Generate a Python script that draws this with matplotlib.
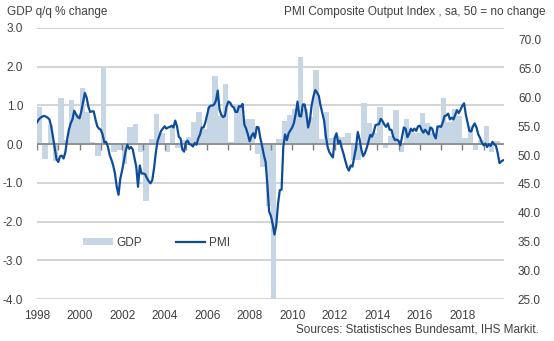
import numpy as np
import matplotlib
matplotlib.use('Agg')
import matplotlib.pyplot as plt
from matplotlib.markers import TICKDOWN
from matplotlib.patches import Patch
from matplotlib.lines import Line2D

plt.rcParams['font.family'] = ['Liberation Sans', 'DejaVu Sans']

START_YEAR = 1998

# GDP q/q % change, quarterly from 1998 Q1
gdp_qq = [
    0.96, -0.39, 0.49, -0.43,   # 1998
    1.18, 0.10, 1.13, 0.75,     # 1999
    1.44, 0.83, 0.05, -0.30,    # 2000
    2.00, 0.00, -0.20, -0.15,   # 2001
    -0.50, 0.44, 0.52, -0.20,   # 2002
    -1.47, 0.12, 0.77, 0.30,    # 2003
    -0.20, 0.45, -0.10, 0.10,   # 2004
    0.18, 0.56, 0.83, 0.40,     # 2005
    0.95, 1.75, 0.72, 1.55,     # 2006
    0.05, 1.00, 1.00, 0.66,     # 2007
    0.66, -0.25, -0.60, -1.60,  # 2008
    -4.00, 0.13, 0.60, 0.75,    # 2009
    0.90, 2.24, 0.90, 0.70,     # 2010
    1.92, 0.12, 0.83, 0.15,     # 2011
    0.20, 0.18, 0.30, -0.40,    # 2012
    -0.40, 1.05, 0.54, 0.30,    # 2013
    0.96, -0.10, 0.20, 0.87,    # 2014
    -0.20, 0.65, 0.40, 0.30,    # 2015
    0.80, 0.55, 0.30, 0.50,     # 2016
    1.18, 0.57, 0.90, 0.72,     # 2017
    0.15, 0.48, -0.15, 0.10,    # 2018
    0.47, -0.20, 0.08,          # 2019
]

# PMI composite output index, monthly from Jan 1998
pmi = [
    55.7, 56.2, 56.5, 56.7, 56.8, 56.7, 56.5, 56.2, 55.0, 53.2, 51.2, 49.3,  # 1998
    48.8, 49.8, 49.9, 49.4, 50.5, 52.7, 54.4, 55.5, 56.2, 57.7, 57.1, 56.6,  # 1999
    56.4, 57.6, 59.2, 60.8, 60.0, 58.4, 57.5, 57.6, 57.6, 56.2, 55.0, 54.6,  # 2000
    54.4, 53.6, 52.2, 52.3, 51.5, 50.0, 49.2, 48.2, 46.8, 44.5, 43.1, 45.9,  # 2001
    47.3, 48.9, 50.7, 51.8, 51.1, 51.4, 51.0, 49.5, 48.0, 44.5, 48.2, 46.8,  # 2002
    46.8, 46.7, 46.0, 45.5, 45.1, 45.6, 47.6, 50.3, 52.4, 53.3, 54.2, 54.6,  # 2003
    55.0, 54.6, 54.8, 54.9, 55.1, 54.8, 56.0, 55.0, 53.2, 52.9, 51.0, 50.6,  # 2004
    52.2, 52.5, 51.9, 51.8, 51.5, 52.1, 51.8, 52.9, 53.6, 54.8, 54.8, 55.7,  # 2005
    57.0, 58.3, 58.6, 58.6, 58.8, 59.5, 61.2, 57.9, 57.0, 56.6, 56.8, 58.5,  # 2006
    59.3, 59.1, 58.5, 58.3, 57.5, 57.5, 58.5, 58.4, 58.9, 55.3, 54.6, 53.6,  # 2007
    52.4, 53.3, 53.8, 53.0, 54.9, 54.8, 53.0, 51.6, 50.0, 48.8, 44.8, 40.2,  # 2008
    39.4, 38.0, 36.2, 37.8, 41.5, 43.9, 44.0, 51.5, 53.6, 52.6, 53.8, 54.3,  # 2009
    54.8, 55.6, 57.2, 59.3, 56.8, 56.7, 58.8, 58.8, 57.2, 54.8, 56.1, 58.7,  # 2010
    60.2, 61.3, 60.9, 60.3, 58.6, 57.3, 56.0, 53.3, 51.4, 50.5, 50.0, 49.6,  # 2011
    53.0, 53.8, 52.0, 52.5, 51.2, 50.2, 49.0, 47.9, 47.3, 48.2, 48.0, 49.6,  # 2012
    51.3, 54.0, 52.8, 51.0, 49.8, 50.3, 51.2, 52.3, 53.5, 53.2, 54.0, 55.2,  # 2013
    55.3, 55.4, 56.3, 55.9, 55.3, 54.9, 55.5, 54.4, 54.4, 53.2, 52.6, 52.7,  # 2014
    52.5, 51.7, 53.2, 54.8, 54.6, 53.1, 53.7, 54.6, 54.2, 54.6, 54.2, 55.0,  # 2015
    55.1, 54.4, 53.9, 54.4, 54.0, 53.6, 54.8, 54.6, 53.5, 52.9, 54.9, 55.0,  # 2016
    54.9, 55.7, 56.8, 56.9, 57.2, 56.2, 56.5, 56.2, 57.0, 57.8, 57.3, 57.9,  # 2017
    58.6, 59.0, 57.0, 55.6, 54.2, 54.1, 55.0, 55.5, 54.8, 53.6, 53.0, 52.2,  # 2018
    51.7, 52.0, 51.4, 51.9, 51.6, 52.3, 51.9, 51.6, 50.3, 48.6, 48.9, 49.1,  # 2019
]

x_label_years = list(range(1998, 2019, 2))
zero_tick_years = list(range(1998, 2020))
left_ticks = [-4, -3, -2, -1, 0, 1, 2, 3]
right_ticks = [25, 30, 35, 40, 45, 50, 55, 60, 65, 70]

BAR_COLOR = '#c6d6e5'
LINE_COLOR = '#0d4c9a'
GRID_COLOR = '#c8c8c8'
ZERO_COLOR = '#7f7f7f'
TEXT_COLOR = '#404040'
FS = 8.5

W, H = 554, 341
fig = plt.figure(figsize=(W / 100, H / 100), dpi=100)
ax = fig.add_axes([37 / W, 42 / H, 467 / W, 271 / H])

q_x = START_YEAR + np.arange(len(gdp_qq)) / 4
m_x = START_YEAR + np.arange(len(pmi)) / 12

ax.bar(q_x, gdp_qq, width=0.25, align='edge', color=BAR_COLOR, linewidth=0, zorder=2)
ax.axhline(0, color=ZERO_COLOR, lw=1.1, zorder=3)
ax.plot(zero_tick_years, np.zeros(len(zero_tick_years)), ls='none', marker=TICKDOWN,
        ms=4, mew=1.0, color=ZERO_COLOR, zorder=3)

ax.set_xlim(1998, 2019.96)
ax.set_ylim(-4, 3)
ax.set_yticks(left_ticks)
ax.set_yticklabels([f'{v:.1f}' for v in left_ticks])
ax.set_xticks(x_label_years)
ax.set_xticklabels([str(y) for y in x_label_years])
ax.grid(axis='y', color=GRID_COLOR, lw=1.1)
ax.set_axisbelow(True)
ax.tick_params(axis='both', length=0, labelsize=FS, labelcolor=TEXT_COLOR)
ax.tick_params(axis='x', pad=8)
ax.tick_params(axis='y', pad=10)
for s in ax.spines.values():
    s.set_visible(False)

ax2 = ax.twinx()
ax2.plot(m_x, pmi, color=LINE_COLOR, lw=1.6, zorder=4)
ax2.set_ylim(25, 72.08)
ax2.set_yticks(right_ticks)
ax2.set_yticklabels([f'{v:.1f}' for v in right_ticks])
ax2.tick_params(axis='y', length=0, pad=10, labelsize=FS, labelcolor=TEXT_COLOR)
for s in ax2.spines.values():
    s.set_visible(False)

handles = [Patch(facecolor=BAR_COLOR, edgecolor='none'),
           Line2D([], [], color=LINE_COLOR, lw=1.6)]
ax2.legend(handles, ['GDP', 'PMI'], loc='center left',
           bbox_to_anchor=((83 - 37) / 467, (299 - 243) / 271), ncol=2,
           frameon=False, borderpad=0, borderaxespad=0, handlelength=2.5,
           handleheight=0.5, handletextpad=0.3, columnspacing=2.9,
           fontsize=FS, labelcolor=TEXT_COLOR)

fig.text(7 / W, 1 - 12 / H, 'GDP q/q % change', ha='left', va='center',
         fontsize=FS, color=TEXT_COLOR)
fig.text(546 / W, 1 - 12 / H, 'PMI Composite Output Index , sa, 50 = no change',
         ha='right', va='center', fontsize=FS, color=TEXT_COLOR)
fig.text(539 / W, 1 - 329 / H, 'Sources: Statistisches Bundesamt, IHS Markit.',
         ha='right', va='center', fontsize=FS, color=TEXT_COLOR)

fig.savefig('out.png', dpi=100)
